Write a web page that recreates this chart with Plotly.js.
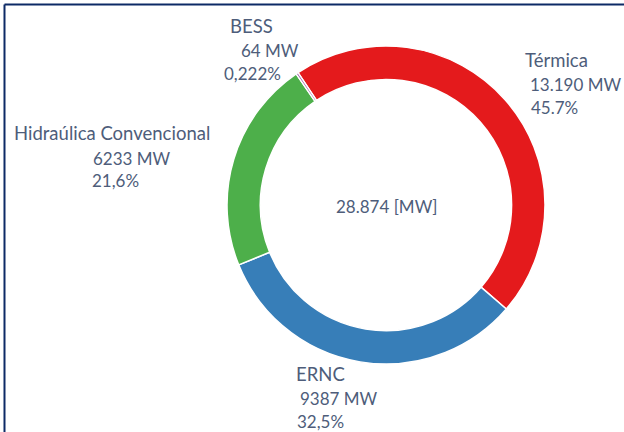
<!DOCTYPE html>
<html>
<head>
<meta charset="utf-8">
<script src="https://cdn.plot.ly/plotly-3.0.1.min.js"></script>
<style>
html,body{margin:0;padding:0;background:#fff;}
#chart{width:624px;height:432px;}
</style>
</head>
<body>
<div id="chart"></div>
<script>
// Data
var categories = ["Térmica", "ERNC", "Hidraúlica Convencional", "BESS"];
var valuesMW = [13190, 9387, 6233, 64];
var valueLabels = ["13.190", "9387", "6233", "64"];
var percentLabels = ["45.7%", "32,5%", "21,6%", "0,222%"];
var colors = ["#e41a1c", "#377eb8", "#4daf4a", "#984ea3"];
var totalLabel = "28.874 [MW]";

var textColor = "#4e5d7a";
var fontFam = "Lato, 'Open Sans', sans-serif";

var trace = {
  type: "pie",
  labels: categories,
  values: valuesMW,
  hole: 0.79,
  sort: false,
  direction: "clockwise",
  rotation: -33.6,
  textinfo: "none",
  hoverinfo: "label+value+percent",
  marker: {colors: colors, line: {color: "#ffffff", width: 1.5}},
  domain: {x: [0.3638, 0.8734], y: [0.1574, 0.8935]},
  showlegend: false
};

// label anchor positions (paper fractions) for each category
var labelPos = [
  {x: 0.838, y: 0.862},   // Térmica
  {x: 0.471, y: 0.135},   // ERNC
  {x: 0.019, y: 0.692},   // Hidraúlica
  {x: 0.365, y: 0.94}     // BESS
];
var numIndent = [
  {dx: 0.0075, px: 0.0105},
  {dx: 0.0065, px: 0.0015},
  {dx: 0.1275, px: 0.1245},
  {dx: 0.0175, px: -0.0095}
];

var annotations = [];
for (var i = 0; i < categories.length; i++) {
  var p = labelPos[i];
  annotations.push({xref: "paper", yref: "paper", x: p.x, y: p.y, xanchor: "left", yanchor: "middle",
    text: categories[i], showarrow: false, font: {family: fontFam, size: 18.5, color: textColor}});
  annotations.push({xref: "paper", yref: "paper", x: p.x + numIndent[i].dx, y: p.y - 0.058, xanchor: "left", yanchor: "middle",
    text: valueLabels[i] + " MW", showarrow: false, font: {family: fontFam, size: 17, color: textColor}});
  annotations.push({xref: "paper", yref: "paper", x: p.x + numIndent[i].px, y: p.y - 0.11, xanchor: "left", yanchor: "middle",
    text: percentLabels[i], showarrow: false, font: {family: fontFam, size: 17, color: textColor}});
}
annotations.push({xref: "paper", yref: "paper", x: 0.619, y: 0.521, xanchor: "center", yanchor: "middle",
  text: totalLabel, showarrow: false, font: {family: fontFam, size: 17, color: textColor}});

var layout = {
  width: 624, height: 432,
  margin: {l: 0, r: 0, t: 0, b: 0},
  paper_bgcolor: "#ffffff",
  plot_bgcolor: "#ffffff",
  annotations: annotations,
  shapes: [
    {type: "line", xref: "paper", yref: "paper", x0: 0.0072, x1: 1, y0: 0.9896, y1: 0.9896, line: {color: "#0d2a66", width: 2}},
    {type: "line", xref: "paper", yref: "paper", x0: 0.0072, x1: 0.0072, y0: 0, y1: 0.9896, line: {color: "#0d2a66", width: 2}}
  ]
};

Plotly.newPlot("chart", [trace], layout, {displayModeBar: false, staticPlot: true});
</script>
</body>
</html>
